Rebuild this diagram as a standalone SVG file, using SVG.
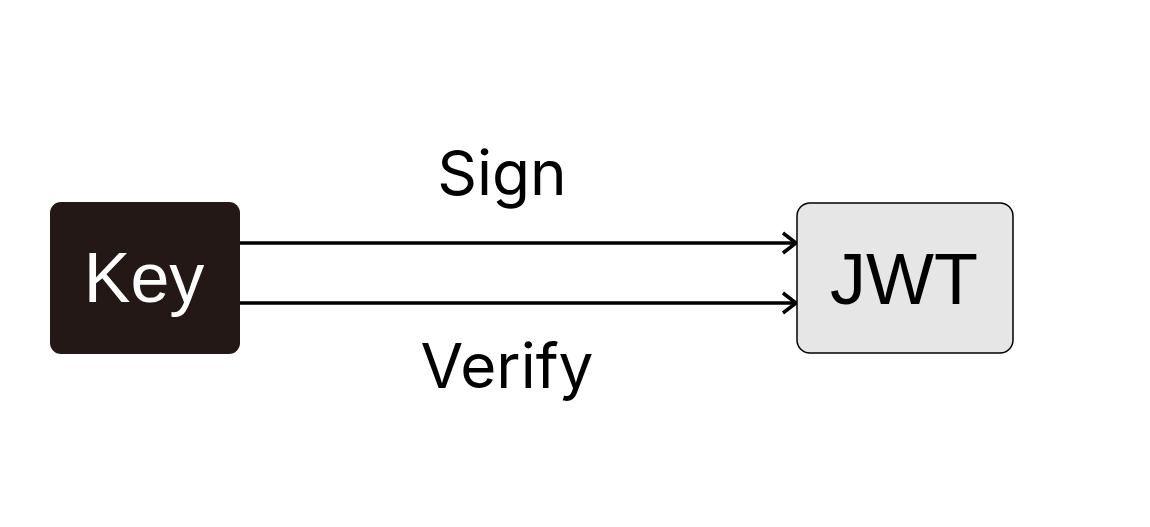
<svg xmlns="http://www.w3.org/2000/svg" width="1150" height="527" viewBox="0 0 1150 527">
<style>
.node-text{font-family:"Liberation Sans",Arial,sans-serif;font-size:70px;text-anchor:middle}
.label{font-family:Inter,"Noto Sans",sans-serif;font-size:62px;text-anchor:middle;fill:#000}
.edge{stroke:#000;stroke-width:3.5;fill:none}
</style>
<defs>
<marker id="arrow" markerWidth="20" markerHeight="26" refX="16" refY="13" orient="auto" markerUnits="userSpaceOnUse">
<path d="M3,3 L16,13 L3,23" fill="none" stroke="#000" stroke-width="3.5"/>
</marker>
</defs>
<rect width="1150" height="527" fill="#fff"/>
<g id="connectors">
<line class="edge" x1="240" y1="243" x2="796" y2="243" marker-end="url(#arrow)"/>
<line class="edge" x1="240" y1="303" x2="796" y2="303" marker-end="url(#arrow)"/>
<text class="label" x="502" y="195">Sign</text>
<text class="label" x="507" y="388">Verify</text>
</g>
<g id="key">
<rect x="50" y="202" width="190" height="152" rx="11" fill="#231815"/>
<text class="node-text" x="144" y="302" fill="#fff">Key</text>
</g>
<g id="jwt">
<rect x="797" y="203" width="216" height="150" rx="13" fill="#e6e6e6" stroke="#000" stroke-width="1.5"/>
<text class="node-text" x="904" y="304" fill="#000" style="font-size:72px">JWT</text>
</g>
</svg>
